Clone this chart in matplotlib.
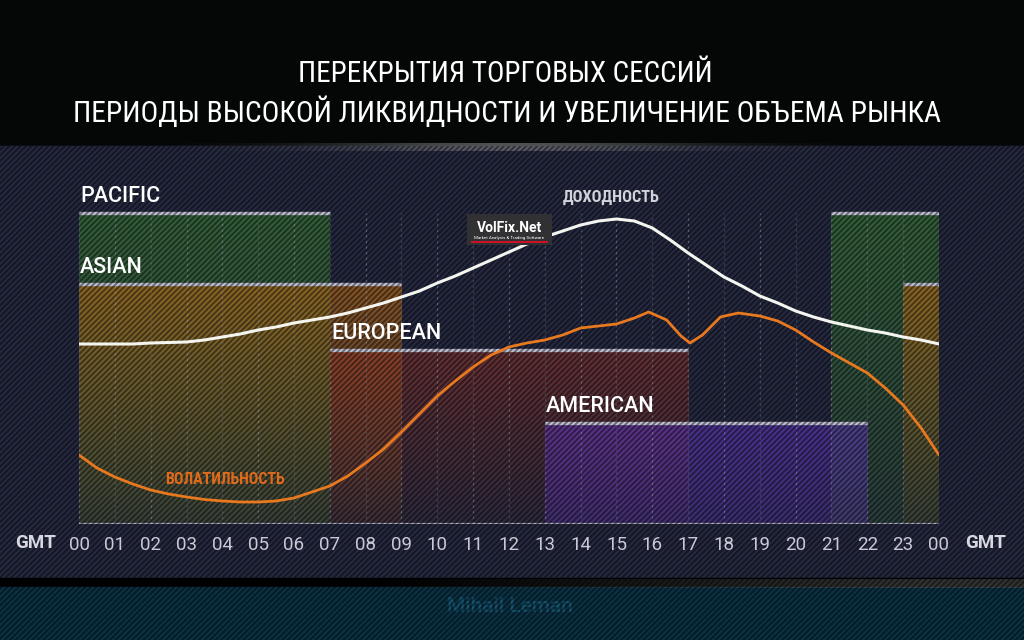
import matplotlib
matplotlib.use("Agg")
import matplotlib.pyplot as plt
import numpy as np
from matplotlib.patches import Rectangle
from matplotlib import font_manager

W, H = 1024, 640

# --- data -------------------------------------------------------------
hours = list(range(25))
hour_labels = ["%02d" % (h % 24) for h in hours]

sessions = ["PACIFIC", "ASIAN", "EUROPEAN", "AMERICAN"]
session_spans = [[(0, 7), (21, 24)], [(0, 9), (23, 24)], [(7, 17)], [(13, 22)]]
session_level = [311, 240, 174, 101]
session_colors = ["#3c7a3a", "#c0701a", "#a63a2a", "#6a3ad0"]
session_alpha = [(0.72, 0.28), (0.66, 0.10), (0.52, 0.08), (0.56, 0.36)]

# доходность (white curve)
yield_t = [0, 0.5, 1, 1.5, 2, 2.5, 3, 3.5, 4, 4.5, 5, 5.5, 6, 6.5, 7, 7.5, 8, 8.5,
           9, 9.5, 10, 10.5, 11, 11.5, 12, 12.5, 13, 13.5, 14, 14.5, 15, 15.5, 16,
           16.5, 17, 17.5, 18, 18.5, 19, 19.5, 20, 20.5, 21, 21.5, 22, 22.5, 23,
           23.5, 24]
yield_v = [180, 180, 180, 180, 181, 181.5, 182, 184, 187, 190, 194, 197, 201, 204,
           207, 211, 216, 221, 227, 233, 241, 248, 256, 264, 272, 280, 287, 293,
           299, 303, 305, 303, 296, 284, 271, 259, 247, 238, 228, 221, 213, 207,
           202, 198, 194, 191, 187, 184, 180]

# волатильность (orange curve)
vol_t = [0, 0.5, 1, 1.5, 2, 2.5, 3, 3.5, 4, 4.5, 5, 5.5, 6, 6.5, 7, 7.5, 8, 8.5,
         9, 9.5, 10, 10.5, 11, 11.5, 12, 12.5, 13, 13.5, 14, 14.5, 15, 15.5, 15.9,
         16.4, 16.8, 17.05, 17.4, 17.9, 18.4, 19, 19.5, 20, 20.5, 21, 21.5, 22,
         22.5, 23, 23.5, 24]
vol_v = [69, 56, 47, 40, 34, 30, 27, 24.5, 23, 22, 22, 23, 26, 32, 38, 48, 61, 75,
         92, 110, 128, 143, 157, 169, 177, 181, 184, 189, 196, 198, 200, 206, 212,
         204, 188, 181, 189, 207, 211, 208, 203, 194, 182, 171, 161, 151, 136, 119,
         96, 69]

# --- fonts ------------------------------------------------------------
def wnum(w):
    return font_manager.weight_dict.get(w, w) if isinstance(w, str) else w


def pick_condensed(bold):
    pref = ["Roboto Condensed", "Liberation Sans Narrow", "Noto Sans",
            "Open Sans", "DejaVu Sans", "Lato", "Inter"]
    order = {"extra-condensed": 0, "ultra-condensed": 1, "condensed": 2,
             "semi-condensed": 3}
    best = None
    for f in font_manager.fontManager.ttflist:
        if f.style != "normal" or f.stretch not in order:
            continue
        w = wnum(f.weight)
        if bold and not (600 <= w <= 800):
            continue
        if not bold and not (350 <= w <= 450):
            continue
        rank = (order[f.stretch], pref.index(f.name) if f.name in pref else 99)
        if best is None or rank < best[0]:
            best = (rank, f.fname)
    return best[1] if best else None


cond_reg = pick_condensed(False)
cond_bold = pick_condensed(True)
fp_title = (font_manager.FontProperties(fname=cond_reg) if cond_reg
            else font_manager.FontProperties(family="DejaVu Sans"))
fp_lab = (font_manager.FontProperties(fname=cond_bold) if cond_bold
          else font_manager.FontProperties(family="DejaVu Sans", weight="bold"))

plt.rcParams["font.family"] = ["Roboto", "DejaVu Sans"]
plt.rcParams["hatch.linewidth"] = 1.6

fig = plt.figure(figsize=(W / 100, H / 100), dpi=100)
renderer = fig.canvas.get_renderer()


def fit(t, width_px):
    t.set_fontsize(30)
    bb = t.get_window_extent(renderer)
    t.set_fontsize(30 * width_px / bb.width)


# background layer in pixel coords
bg = fig.add_axes([0, 0, 1, 1])
bg.set_xlim(0, W)
bg.set_ylim(H, 0)
bg.axis("off")
bg.add_patch(Rectangle((0, 0), W, 146, color="#050707", zorder=0))
bg.add_patch(Rectangle((0, 146), W, 434, color="#272b43", zorder=0))
bg.add_patch(Rectangle((0, 578), W, 10, color="#000000", zorder=0))
bg.add_patch(Rectangle((0, 587), W, 53, color="#0b3448", zorder=0))

gx = np.linspace(-1, 1, 300)
glow = np.zeros((1, 300, 4))
glow[..., :3] = 0.55
glow[..., 3] = 0.55 * np.exp(-(gx / 0.55) ** 2)
bg.imshow(glow, extent=(180, 840, 151, 143), aspect="auto", zorder=1,
          interpolation="bilinear")
strip = np.zeros((1, 300, 4))
strip[..., :3] = 0.35
strip[..., 3] = np.clip(np.linspace(-0.2, 1.2, 300), 0, 1) * 0.6
bg.imshow(strip, extent=(250, W, 588, 579), aspect="auto", zorder=1,
          interpolation="bilinear")

t1 = bg.text(505, 82, "ПЕРЕКРЫТИЯ ТОРГОВЫХ СЕССИЙ", color="white",
             fontproperties=fp_title, ha="center", va="baseline")
t2 = bg.text(507, 122, "ПЕРИОДЫ ВЫСОКОЙ ЛИКВИДНОСТИ И УВЕЛИЧЕНИЕ ОБЪЕМА РЫНКА",
             color="white", fontproperties=fp_title, ha="center", va="baseline")
fit(t1, 415)
fit(t2, 870)
bg.text(510, 607, "Mihail Leman", color="#175a78", fontsize=15,
        ha="center", va="center", weight="medium")

# --- chart layer ------------------------------------------------------
ax = fig.add_axes([79 / W, 116 / H, 860 / W, 378 / H])
ax.patch.set_visible(False)

for name, spans, top, col, (a_top, a_bot) in zip(
        sessions, session_spans, session_level, session_colors, session_alpha):
    rgb = matplotlib.colors.to_rgb(col)
    grad = np.zeros((120, 1, 4))
    grad[..., :3] = rgb
    grad[:, 0, 3] = np.linspace(a_top, a_bot, 120)
    for a, b in spans:
        ax.imshow(grad, extent=(a, b, 0, top), aspect="auto", zorder=1,
                  interpolation="bilinear", origin="upper")
        ax.hlines(top, a, b, color="#c9c9dd", lw=2.4, zorder=3)
    ax.text(spans[0][0] + 0.03, top + 11, name, color="white", fontsize=15.5,
            weight="medium", ha="left", va="baseline", zorder=6)

ax.vlines(hours, 0, max(session_level), colors="#a0a6c0", alpha=0.45, lw=0.9,
          linestyles=(0, (2, 2.5)), zorder=2)
ax.hlines(0, 0, 24, color="#b4b4c6", lw=1.6, zorder=3)

# stripe texture over the panel and the footer, below the curves
ax.add_patch(Rectangle((0, 0), 1, 494 / H, transform=fig.transFigure,
                       facecolor="none", edgecolor=(0, 0, 0, 0.45),
                       hatch="//////", lw=0, zorder=4, clip_on=False))

ax.plot(yield_t, yield_v, color="#f5f5f0", lw=2.2, zorder=5,
        solid_capstyle="round")
ax.plot(vol_t, vol_v, color="#e8791f", lw=2.0, zorder=5, solid_capstyle="round")

ax.set_xlim(0, 24)
ax.set_ylim(0, 378)
for s in ax.spines.values():
    s.set_visible(False)
ax.set_yticks([])
ax.set_xticks(hours, hour_labels)
ax.tick_params(axis="x", length=0, pad=9, labelsize=13.5, labelcolor="#c9cad6")
ax.xaxis.set_zorder(6)

for gx_h in (-1.2, 25.3):
    ax.text(gx_h, -10, "GMT", color="#d8d8e2", fontsize=13.5, weight="bold",
            ha="center", va="top", clip_on=False, zorder=6)

# curve labels and logo, drawn above the stripe texture
tl1 = fig.text(611 / W, 1 - 197 / H, "ДОХОДНОСТЬ", color="#d2d2da",
               fontproperties=fp_lab, ha="center", va="center")
fit(tl1, 97)
tl2 = fig.text(225 / W, 1 - 480 / H, "ВОЛАТИЛЬНОСТЬ", color="#e06a1c",
               fontproperties=fp_lab, ha="center", va="center")
fit(tl2, 120)

logo = fig.add_axes([467 / W, 1 - 245 / H, 85 / W, 31 / H])
logo.set_xlim(0, 85)
logo.set_ylim(31, 0)
logo.axis("off")
logo.add_patch(Rectangle((0, 0), 85, 31, color="#313134"))
logo.text(42.5, 14, "VolFix.Net", color="white", fontsize=10, weight="bold",
          ha="center", va="center")
logo.text(42.5, 24.5, "Market Analysis & Trading Software", color="white",
          fontsize=3.2, ha="center", va="center")
logo.plot([5, 80], [28, 28], color="#d0102a", lw=1.4)

fig.savefig("out.png", dpi=100, facecolor="#050707")
